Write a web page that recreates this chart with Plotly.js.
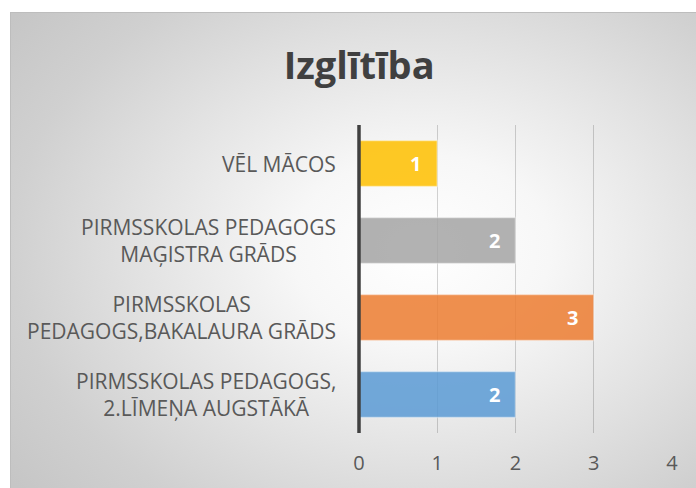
<!DOCTYPE html>
<html>
<head>
<meta charset="utf-8">
<script src="https://cdn.plot.ly/plotly-3.0.1.min.js"></script>
<style>
  html, body { margin: 0; padding: 0; background: #ffffff; width: 696px; height: 488px; overflow: hidden; }
  #chart {
    position: absolute; left: 10px; top: 12px; width: 686px; height: 476px;
    background: radial-gradient(ellipse 75% 80% at 60% 50%, #ffffff 0%, #f7f7f7 25%, #e2e2e2 55%, #d0d0d0 80%, #c6c6c6 100%);
    box-shadow: inset 1px 1px 0 #bdbdbd;
  }
</style>
</head>
<body>
<div id="chart"></div>
<script>
// Data (bottom to top, as Plotly draws horizontal categories)
const categories = [
  "PIRMSSKOLAS PEDAGOGS,<br>2.LĪMEŅA AUGSTĀKĀ",
  "PIRMSSKOLAS<br>PEDAGOGS,BAKALAURA GRĀDS",
  "PIRMSSKOLAS PEDAGOGS<br>MAĢISTRA GRĀDS",
  "VĒL MĀCOS"
];
const values = [2, 3, 2, 1];
const barColors = ["#5B9BD5", "#ED7D31", "#A5A5A5", "#FFC000"];
const tickValues = [0, 1, 2, 3, 4];
const tickLabels = ["0", "1", "2", "3", "4"];
const chartTitle = "Izglītība";

const trace = {
  type: "bar",
  orientation: "h",
  x: values,
  y: categories,
  marker: {
    color: barColors,
    opacity: 0.85,
    line: { color: "rgba(255,255,255,0.45)", width: 1.5 }
  },
  hoverinfo: "none"
};

const annotations = [];
categories.forEach((c, i) => {
  annotations.push({
    x: 0, xref: "paper", y: c, yref: "y",
    xanchor: "right", yanchor: "middle", xshift: -21,
    text: c, showarrow: false, align: "center",
    font: { family: "Open Sans", size: 21, color: "#595959" }
  });
  annotations.push({
    x: values[i], xref: "x", y: c, yref: "y",
    xanchor: "right", yanchor: "middle", xshift: -14,
    text: String(values[i]), showarrow: false,
    font: { family: "Open Sans", size: 20, color: "#ffffff", weight: "bold" }
  });
});

const layout = {
  width: 686,
  height: 476,
  paper_bgcolor: "rgba(0,0,0,0)",
  plot_bgcolor: "rgba(0,0,0,0)",
  margin: { l: 349, r: 24, t: 113, b: 55, pad: 0 },
  title: {
    text: "<b>" + chartTitle + "</b>",
    font: { family: "Open Sans", size: 38, color: "#404040" },
    x: 0.509, xref: "container", xanchor: "center",
    y: 0.888, yref: "container", yanchor: "middle"
  },
  bargap: 0.4,
  showlegend: false,
  xaxis: {
    range: [0, 4],
    tickvals: tickValues,
    ticktext: tickLabels,
    showgrid: true,
    gridcolor: "rgba(0,0,0,0.17)",
    gridwidth: 1,
    zeroline: false,
    showline: false,
    ticks: "",
    ticklabelstandoff: 16,
    tickfont: { family: "Open Sans", size: 20, color: "#595959" },
    fixedrange: true
  },
  yaxis: {
    type: "category",
    categoryorder: "array",
    categoryarray: categories,
    showticklabels: false,
    showgrid: false,
    zeroline: false,
    showline: false,
    ticks: "",
    fixedrange: true
  },
  shapes: [{
    type: "line", xref: "paper", yref: "paper",
    x0: 0, x1: 0, y0: 0, y1: 1,
    line: { color: "#404040", width: 3.5 },
    layer: "above"
  }],
  annotations: annotations
};

Plotly.newPlot("chart", [trace], layout, { displayModeBar: false, staticPlot: true });
</script>
</body>
</html>
